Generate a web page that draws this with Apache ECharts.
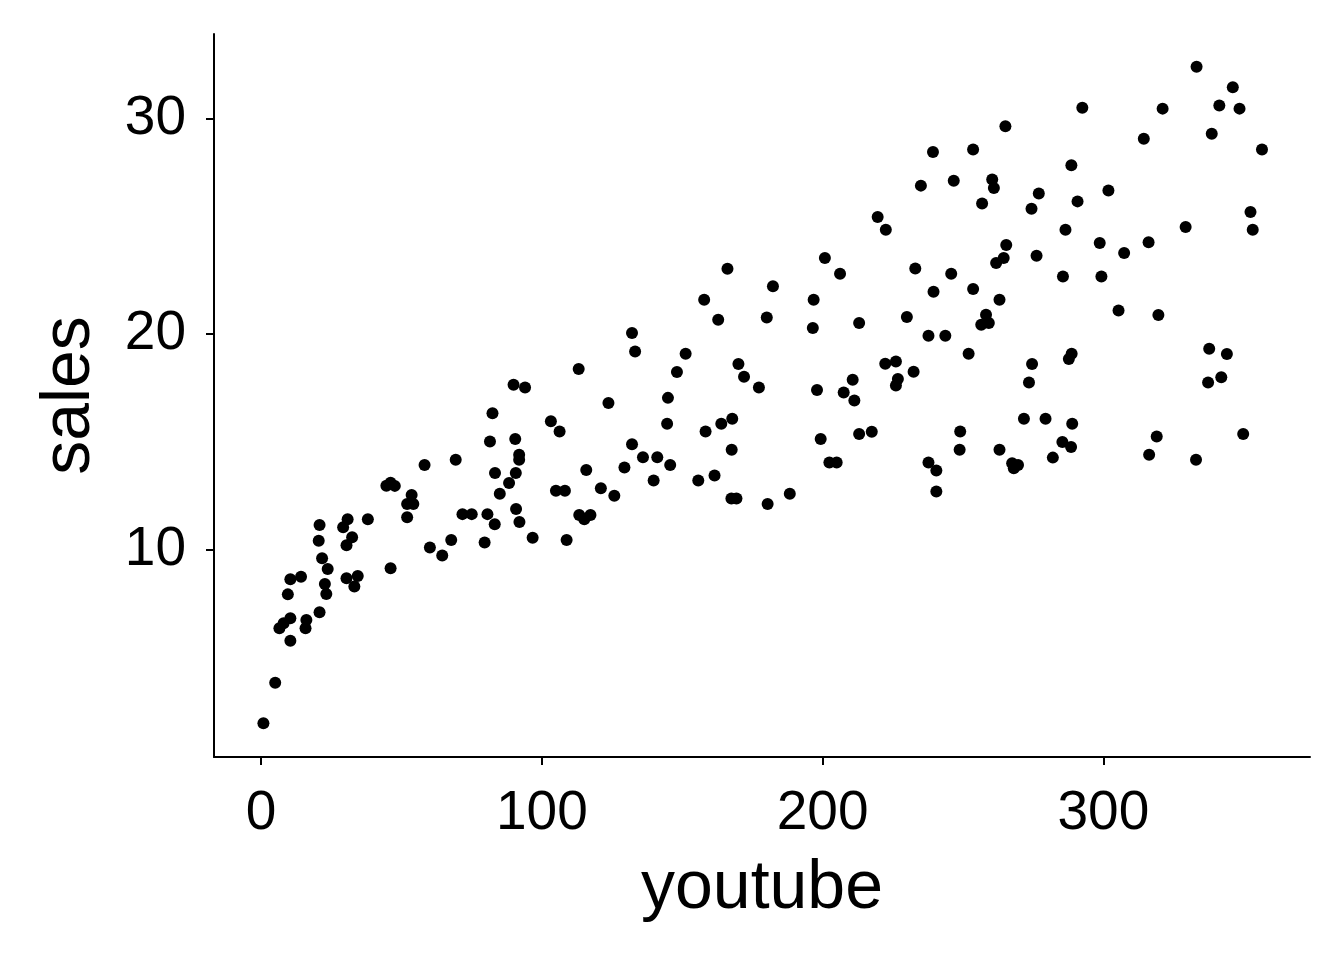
<!DOCTYPE html>
<html>
<head>
<meta charset="utf-8">
<script src="https://cdn.jsdelivr.net/npm/echarts@6/dist/echarts.min.js"></script>
<style>
html,body{margin:0;padding:0;background:#fff;}
#chart{width:1344px;height:960px;}
</style>
</head>
<body>
<div id="chart"></div>
<script>
var youtube = [
  20.5,21.7,23.7,10.4,14.2,22.7,23.2,9.5,20.8,10.4,6.5,8.0,16.1,15.8,10.4,5.0,0.8,20.8,
  58.2,44.6,47.6,46.1,53.6,52.0,54.2,52.0,30.8,38.0,29.2,32.4,30.4,60.1,46.1,30.4,34.4,33.2,
  89.9,94.0,82.4,103.2,106.3,81.5,90.5,91.9,91.9,69.3,83.3,90.7,88.3,85.0,105.0,108.2,71.7,75.0,80.6,83.2,90.8,92.0,96.7,108.8,67.7,64.5,79.6,
  157.8,132.1,133.2,151.2,113.1,148.1,123.7,144.9,144.6,158.3,132.1,136.0,141.1,145.7,129.4,115.8,139.8,155.7,121.0,125.8,113.3,117.3,115.1,
  200.8,206.2,166.1,182.3,196.8,162.8,180.1,196.5,170.0,172.0,177.3,198.0,207.5,167.8,163.9,167.6,199.3,202.4,205.0,161.5,167.5,169.3,180.4,188.3,
  239.3,253.6,235.0,246.7,256.8,219.6,222.5,233.0,245.8,239.5,253.6,
  213.0,230.0,258.2,256.5,259.2,237.7,243.7,252.0,222.3,226.1,232.4,226.8,226.1,210.7,211.3,213.0,217.5,249.0,248.8,237.7,240.5,240.5,
  292.5,265.1,288.6,260.4,261.0,277.0,301.8,274.4,290.8,286.5,298.7,307.4,265.4,264.5,261.8,276.2,285.6,299.3,
  263.0,305.4,288.7,287.7,274.6,273.5,271.7,279.4,288.9,263.0,285.4,288.5,282.0,267.5,269.6,268.1,
  333.2,346.1,321.1,341.3,348.5,314.4,338.6,356.5,352.4,353.2,329.3,316.1,
  319.6,337.7,344.0,342.0,337.3,319.0,316.3,333.0,349.8
];
var sales = [
  10.43,9.61,9.12,8.64,8.76,8.42,7.96,7.94,7.11,6.83,6.37,6.60,6.75,6.37,5.79,3.84,1.96,11.16,
  13.94,12.98,12.97,13.12,12.55,12.13,12.13,11.52,11.42,11.42,11.05,10.59,10.22,10.11,9.15,8.69,8.79,8.30,
  17.66,17.53,16.34,15.97,15.49,15.03,15.14,14.41,14.18,14.18,13.57,13.57,13.10,12.60,12.74,12.74,11.66,11.66,11.66,11.19,11.90,11.29,10.57,10.46,10.46,9.74,10.34,
  21.60,20.06,19.20,19.10,18.39,18.25,16.81,17.05,15.85,15.49,14.90,14.30,14.30,13.94,13.82,13.71,13.22,13.22,12.86,12.51,11.62,11.62,11.42,
  23.54,22.81,23.04,22.22,21.60,20.67,20.78,20.29,18.62,18.03,17.53,17.41,17.30,16.08,15.85,14.65,15.14,14.05,14.05,13.45,12.38,12.38,12.13,12.60,
  28.45,28.56,26.89,27.12,26.06,25.44,24.85,23.05,22.81,21.97,22.10,
  20.52,20.80,20.90,20.44,20.52,19.93,19.93,19.10,18.63,18.74,18.26,17.92,17.62,17.89,16.93,15.37,15.48,15.49,14.64,14.05,13.68,12.71,
  30.50,29.64,27.83,27.17,26.78,26.52,26.66,25.82,26.16,24.85,24.23,23.77,24.14,23.54,23.30,23.64,22.68,22.68,
  21.60,21.10,19.10,18.85,18.62,17.76,16.08,16.08,15.85,14.64,15.00,14.77,14.28,14.02,13.94,13.79,
  32.40,31.45,30.46,30.60,30.46,29.06,29.29,28.56,25.67,24.85,24.97,24.26,
  20.89,19.33,19.08,18.01,17.76,15.26,14.41,14.18,15.37
];
var xTicks = [0, 100, 200, 300];
var yTicks = [10, 20, 30];

var points = youtube.map(function (v, i) { return [v, sales[i]]; });

var chart = echarts.init(document.getElementById('chart'), null, {renderer: 'canvas'});
var font = '"Liberation Sans", Arial, Helvetica, sans-serif';
chart.setOption({
  animation: false,
  backgroundColor: '#ffffff',
  grid: {left: 214, right: 34, top: 34, bottom: 203, containLabel: false},
  xAxis: {
    type: 'value',
    min: -16.8,
    max: 373.6,
    name: 'youtube',
    nameLocation: 'middle',
    nameGap: 98,
    nameTextStyle: {fontFamily: font, fontSize: 68, color: '#000'},
    axisLine: {show: true, onZero: false, lineStyle: {color: '#000', width: 2}},
    axisTick: {show: true, length: 8, lineStyle: {color: '#000', width: 2}, customValues: xTicks},
    axisLabel: {fontFamily: font, fontSize: 55, color: '#000', margin: 29, customValues: xTicks},
    splitLine: {show: false}
  },
  yAxis: {
    type: 'value',
    min: 0.4,
    max: 33.92,
    name: 'sales',
    nameLocation: 'middle',
    nameGap: 110,
    nameRotate: 90,
    nameTextStyle: {fontFamily: font, fontSize: 68, color: '#000'},
    axisLine: {show: true, onZero: false, lineStyle: {color: '#000', width: 2}},
    axisTick: {show: true, length: 8, lineStyle: {color: '#000', width: 2}, customValues: yTicks},
    axisLabel: {fontFamily: font, fontSize: 55, color: '#000', margin: 28, customValues: yTicks},
    splitLine: {show: false}
  },
  series: [{
    type: 'scatter',
    data: points,
    symbol: 'circle',
    symbolSize: 12,
    itemStyle: {color: '#000', opacity: 1},
    emphasis: {disabled: true}
  }]
});
</script>
</body>
</html>
